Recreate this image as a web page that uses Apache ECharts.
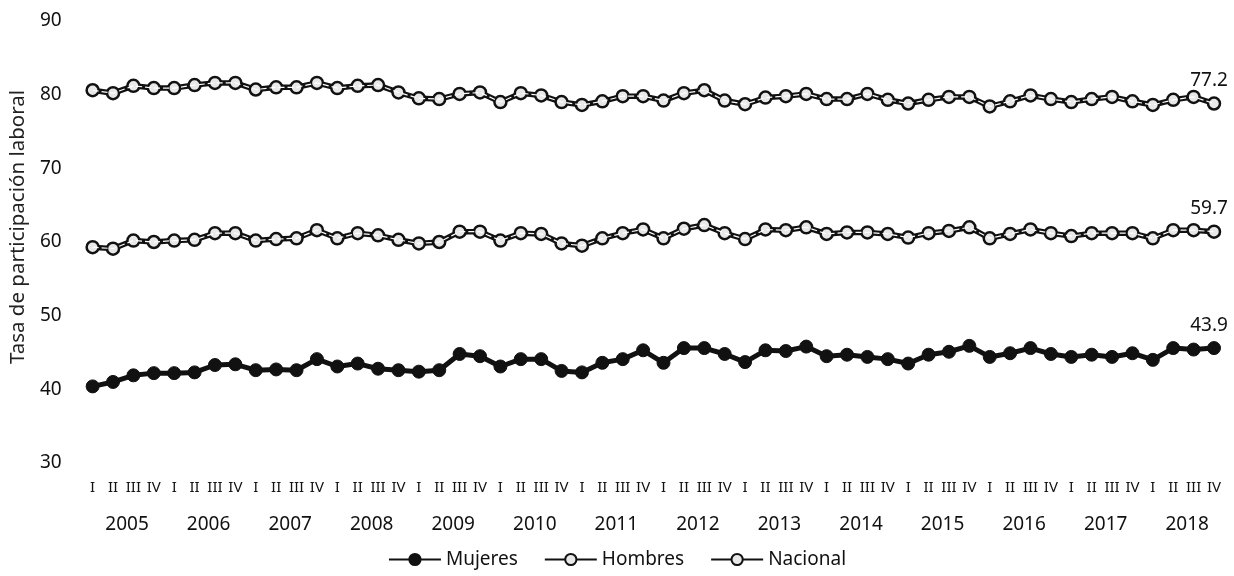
<!DOCTYPE html>
<html>
<head>
<meta charset="utf-8">
<script src="https://cdn.jsdelivr.net/npm/echarts@6/dist/echarts.min.js"></script>
<style>
  html, body { margin: 0; padding: 0; background: #fff; }
  #chart { width: 1234px; height: 576px; }
</style>
</head>
<body>
<div id="chart"></div>
<script>
// periodos: trimestres 2005-I a 2018-IV
const years = [2005, 2006, 2007, 2008, 2009, 2010, 2011, 2012, 2013, 2014, 2015, 2016, 2017, 2018];
const quarters = ['I', 'II', 'III', 'IV'];

// valores (posicion de los marcadores)
const mujeres = [
  40.4, 41.0, 41.9, 42.2, 42.2, 42.3, 43.3, 43.4, 42.6, 42.7, 42.6, 44.1, 43.1, 43.5, 42.8, 42.6,
  42.4, 42.6, 44.8, 44.5, 43.1, 44.1, 44.1, 42.5, 42.3, 43.6, 44.1, 45.3, 43.6, 45.6, 45.6, 44.8,
  43.7, 45.3, 45.2, 45.8, 44.5, 44.7, 44.4, 44.1, 43.5, 44.7, 45.1, 45.9, 44.4, 44.9, 45.6, 44.8,
  44.4, 44.7, 44.4, 44.9, 44.0, 45.6, 45.4, 45.6
];
const hombres = [
  80.6, 80.2, 81.2, 80.9, 80.9, 81.3, 81.6, 81.6, 80.7, 81.0, 81.0, 81.6, 80.9, 81.2, 81.3, 80.3,
  79.5, 79.4, 80.1, 80.3, 79.0, 80.2, 79.9, 79.0, 78.6, 79.1, 79.8, 79.8, 79.2, 80.2, 80.6, 79.2,
  78.7, 79.6, 79.8, 80.1, 79.4, 79.4, 80.1, 79.3, 78.8, 79.3, 79.7, 79.7, 78.4, 79.1, 79.9, 79.4,
  79.0, 79.4, 79.7, 79.1, 78.6, 79.3, 79.7, 78.8
];
const nacional = [
  59.3, 59.1, 60.2, 60.0, 60.2, 60.3, 61.2, 61.2, 60.2, 60.4, 60.5, 61.6, 60.5, 61.2, 60.9, 60.3,
  59.8, 60.0, 61.4, 61.4, 60.2, 61.2, 61.1, 59.8, 59.5, 60.5, 61.2, 61.7, 60.5, 61.8, 62.3, 61.2,
  60.4, 61.7, 61.6, 62.0, 61.1, 61.3, 61.3, 61.1, 60.6, 61.2, 61.5, 62.0, 60.5, 61.1, 61.7, 61.2,
  60.8, 61.2, 61.2, 61.2, 60.5, 61.6, 61.6, 61.4
];
// etiquetas al final de cada linea
const endLabels = { Mujeres: '43.9', Hombres: '77.2', Nacional: '59.7' };

const categories = [];
years.forEach(y => quarters.forEach(q => categories.push(y + '-' + q)));

const FONT = 'Noto Sans';
const INK = '#111';

function withEndLabel(arr, name) {
  const last = arr.length - 1;
  return arr.map((v, i) => i === last ? {
    value: v,
    label: {
      show: true,
      position: 'top',
      distance: 6,
      offset: [-5, 0],
      formatter: endLabels[name],
      color: INK,
      fontFamily: FONT,
      fontSize: 19
    }
  } : v);
}

function hollowSeries(name, arr) {
  return {
    name: name,
    type: 'line',
    data: withEndLabel(arr, name),
    symbol: 'circle',
    symbolSize: 12,
    z: 3,
    lineStyle: { color: INK, width: 5.5 },
    itemStyle: { color: '#e8e8e8', borderColor: INK, borderWidth: 2.5 }
  };
}

// linea blanca interior (estilo de doble trazo)
function innerStroke(arr) {
  return {
    name: '_inner',
    type: 'line',
    data: arr,
    symbol: 'none',
    silent: true,
    z: 4,
    lineStyle: { color: '#fff', width: 1.2, type: [6, 3] },
    tooltip: { show: false }
  };
}

const chart = echarts.init(document.getElementById('chart'));
chart.setOption({
  animation: false,
  textStyle: { fontFamily: FONT, color: INK },
  grid: { left: 88, right: 20, top: 21, bottom: 113 },
  legend: {
    data: ['Mujeres', 'Hombres', 'Nacional'],
    bottom: 2,
    itemWidth: 52,
    itemHeight: 14,
    itemGap: 26,
    textStyle: { fontFamily: FONT, fontSize: 19, color: INK }
  },
  xAxis: [
    {
      type: 'category',
      data: categories,
      boundaryGap: false,
      axisLine: { show: false },
      axisTick: { show: false },
      axisLabel: {
        interval: 0,
        hideOverlap: false,
        margin: 17,
        fontFamily: FONT,
        fontSize: 15,
        color: INK,
        formatter: (v, i) => quarters[i % 4]
      }
    },
    {
      type: 'category',
      data: categories,
      boundaryGap: false,
      position: 'bottom',
      axisLine: { show: false },
      axisTick: { show: false },
      axisLabel: {
        interval: (i) => i % 4 === 1,
        hideOverlap: false,
        margin: 52,
        padding: [0, 0, 0, 28],
        fontFamily: FONT,
        fontSize: 19,
        color: INK,
        formatter: (v, i) => String(years[Math.floor(i / 4)])
      }
    }
  ],
  yAxis: {
    type: 'value',
    min: 30,
    max: 90,
    interval: 10,
    name: 'Tasa de participación laboral',
    nameLocation: 'middle',
    nameGap: 62,
    nameTextStyle: { fontFamily: FONT, fontSize: 20.5, color: '#222', padding: [0, 0, 0, 30] },
    axisLine: { show: false },
    axisTick: { show: false },
    splitLine: { show: false },
    axisLabel: { margin: 31, fontFamily: FONT, fontSize: 19, color: INK }
  },
  series: [
    {
      name: 'Mujeres',
      type: 'line',
      data: withEndLabel(mujeres, 'Mujeres'),
      symbol: 'circle',
      symbolSize: 13,
      z: 3,
      lineStyle: { color: INK, width: 5 },
      itemStyle: { color: INK, borderColor: INK, borderWidth: 1 }
    },
    hollowSeries('Hombres', hombres),
    innerStroke(hombres),
    hollowSeries('Nacional', nacional),
    innerStroke(nacional)
  ]
});
</script>
</body>
</html>
